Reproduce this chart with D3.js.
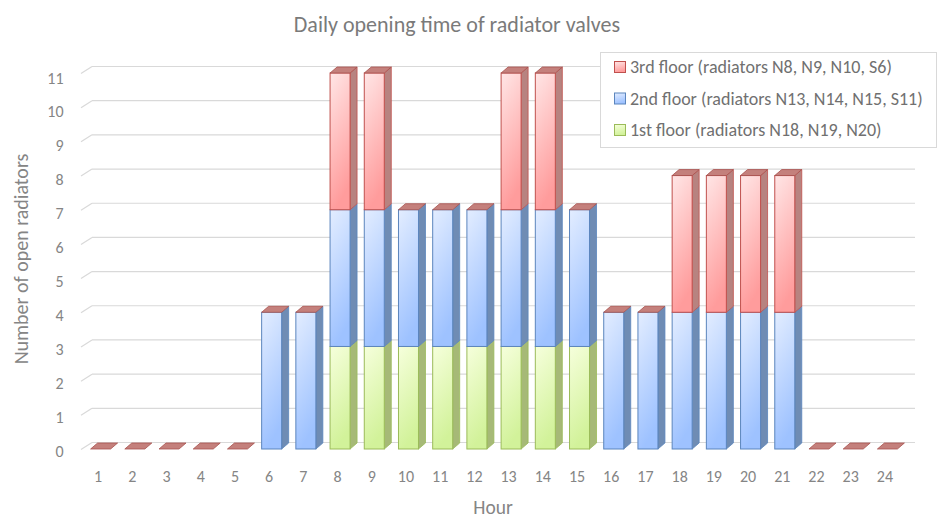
<!DOCTYPE html>
<html>
<head>
<meta charset="utf-8">
<script src="https://cdn.jsdelivr.net/npm/d3@7"></script>
<style>
  body { margin: 0; background: #fff; }
  svg { font-family: Carlito, Lato, sans-serif; }
</style>
</head>
<body>
<div id="chart-area"></div>
<script>

// Data
var hours = ["1","2","3","4","5","6","7","8","9","10","11","12",
             "13","14","15","16","17","18","19","20","21","22","23","24"];
var firstFloor  = [0,0,0,0,0,0,0,3,3,3,3,3,3,3,3,0,0,0,0,0,0,0,0,0];
var secondFloor = [0,0,0,0,0,4,4,4,4,4,4,4,4,4,4,4,4,4,4,4,4,0,0,0];
var thirdFloor  = [0,0,0,0,0,0,0,4,4,0,0,0,4,4,0,0,0,4,4,4,4,0,0,0];
var yTicks = [0,1,2,3,4,5,6,7,8,9,10,11];
var seriesNames = ["3rd floor (radiators N8, N9, N10, S6)",
                   "2nd floor (radiators N13, N14, N15, S11)",
                   "1st floor (radiators N18, N19, N20)"];

var width = 938, height = 519;

var svg = d3.select("#chart-area").append("svg")
    .attr("width", width)
    .attr("height", height);

// colours per series: front gradient, border, side
var styles = [
    { id: "g1", top: "#f6ffdc", bottom: "#d2f29a", stroke: "#9bbb59", side: "#a6b977" },
    { id: "g2", top: "#e3edff", bottom: "#9ec2ff", stroke: "#5b85bd", side: "#6f8cb4" },
    { id: "g3", top: "#ffe6e6", bottom: "#ff9c9c", stroke: "#c0504d", side: "#b78380" }
];

var defs = svg.append("defs");
styles.forEach(function(s){
    var lg = defs.append("linearGradient")
        .attr("id", s.id)
        .attr("x1", 0).attr("y1", 0)
        .attr("x2", 0.25).attr("y2", 1);
    lg.append("stop").attr("offset", "0%").attr("stop-color", s.top);
    lg.append("stop").attr("offset", "100%").attr("stop-color", s.bottom);
});

// Scales
var x = d3.scaleBand()
    .domain(hours)
    .range([81, 902]);

var y = d3.scaleLinear()
    .domain([0, 11])
    .range([449, 73]);

// tick labels sit slightly off the bar scale (3D perspective)
var yLabel = d3.scaleLinear()
    .domain([0, 11])
    .range([451, 77.7]);

// depth of back wall and of the bars
var wall = { dx: 11, dy: -6.5 };
var depth = { dx: 7, dy: -6 };
var barW = 20;

// Gridlines on the back wall
var grid = svg.append("g").attr("class", "grid");
yTicks.forEach(function(v){
    var yy = y(v);
    grid.append("line")
        .attr("x1", 81).attr("y1", yy + 0.5)
        .attr("x2", 81 + wall.dx).attr("y2", yy + wall.dy)
        .attr("stroke", "#d9d9d9").attr("stroke-width", 1.2);
    grid.append("line")
        .attr("x1", 81 + wall.dx).attr("y1", yy + wall.dy)
        .attr("x2", 915).attr("y2", yy + wall.dy)
        .attr("stroke", "#d9d9d9").attr("stroke-width", 1.2);
});

// Y tick labels
svg.append("g").selectAll("text")
    .data(yTicks)
    .enter().append("text")
    .attr("x", 63.5)
    .attr("y", function(d){ return yLabel(d) + 5.8; })
    .attr("text-anchor", "end")
    .attr("font-size", "16px")
    .attr("fill", "#858585")
    .text(function(d){ return d; });

// X tick labels
svg.append("g").selectAll("text")
    .data(hours)
    .enter().append("text")
    .attr("x", function(d){ return x(d) + x.bandwidth() / 2; })
    .attr("y", 481.5)
    .attr("text-anchor", "middle")
    .attr("font-size", "16px")
    .attr("fill", "#858585")
    .text(function(d){ return d; });

// Bars
var series = [firstFloor, secondFloor, thirdFloor];

function sidePath(x0, y0, y1) {
    // parallelogram to the right of the front face, from y0 (bottom) to y1 (top)
    return "M" + x0 + "," + y0 +
        "L" + (x0 + depth.dx) + "," + (y0 + depth.dy) +
        "L" + (x0 + depth.dx) + "," + (y1 + depth.dy) +
        "L" + x0 + "," + y1 + "Z";
}

var bars = svg.append("g").attr("class", "bars");

hours.forEach(function(h, i){
    var left = x(h) + x.bandwidth() / 2 + 2.5 - barW / 2;
    var right = left + barW;
    var base = 0;
    var g = bars.append("g");
    series.forEach(function(s, k){
        var v = s[i];
        if (v > 0) {
            var yb = y(base), yt = y(base + v);
            g.append("path")
                .attr("d", sidePath(right, yb, yt))
                .attr("fill", styles[k].side)
                .attr("stroke", styles[k].stroke)
                .attr("stroke-width", 0.8)
                .attr("stroke-linejoin", "round");
            g.append("rect")
                .attr("x", left)
                .attr("y", yt)
                .attr("width", barW)
                .attr("height", yb - yt)
                .attr("fill", "url(#" + styles[k].id + ")")
                .attr("stroke", styles[k].stroke)
                .attr("stroke-width", 1);
        }
        base += v;
    });
    // top cap (always the 3rd floor series, stacked last)
    var yt = y(base);
    g.append("path")
        .attr("d", "M" + left + "," + yt +
            "L" + right + "," + yt +
            "L" + (right + depth.dx) + "," + (yt + depth.dy) +
            "L" + (left + depth.dx) + "," + (yt + depth.dy) + "Z")
        .attr("fill", "#c4807c")
        .attr("stroke", "#a8524e")
        .attr("stroke-width", 0.8)
        .attr("stroke-linejoin", "round");
});

// Title
svg.append("text")
    .attr("x", 457)
    .attr("y", 31.5)
    .attr("text-anchor", "middle")
    .attr("font-size", "22px")
    .attr("fill", "#7a7a7a")
    .text("Daily opening time of radiator valves");

// Axis labels
svg.append("text")
    .attr("x", 493)
    .attr("y", 514)
    .attr("text-anchor", "middle")
    .attr("font-size", "19.5px")
    .attr("fill", "#858585")
    .text("Hour");

svg.append("text")
    .attr("transform", "rotate(-90)")
    .attr("x", -259)
    .attr("y", 27.5)
    .attr("text-anchor", "middle")
    .attr("font-size", "20px")
    .attr("fill", "#858585")
    .text("Number of open radiators");

// Legend
var legend = svg.append("g").attr("class", "legend");
legend.append("rect")
    .attr("x", 600.5).attr("y", 52.5)
    .attr("width", 336).attr("height", 95)
    .attr("fill", "#fff")
    .attr("stroke", "#d9d9d9");

var legendStyles = [styles[2], styles[1], styles[0]];
seriesNames.forEach(function(name, i){
    var ly = 67 + i * 31.5;
    legend.append("rect")
        .attr("x", 614.5).attr("y", ly - 5.5)
        .attr("width", 11).attr("height", 11)
        .attr("fill", "url(#" + legendStyles[i].id + ")")
        .attr("stroke", legendStyles[i].stroke);
    legend.append("text")
        .attr("x", 630)
        .attr("y", ly + 6)
        .attr("font-size", "18px")
        .attr("fill", "#707070")
        .text(name);
});

</script>
</body>
</html>
